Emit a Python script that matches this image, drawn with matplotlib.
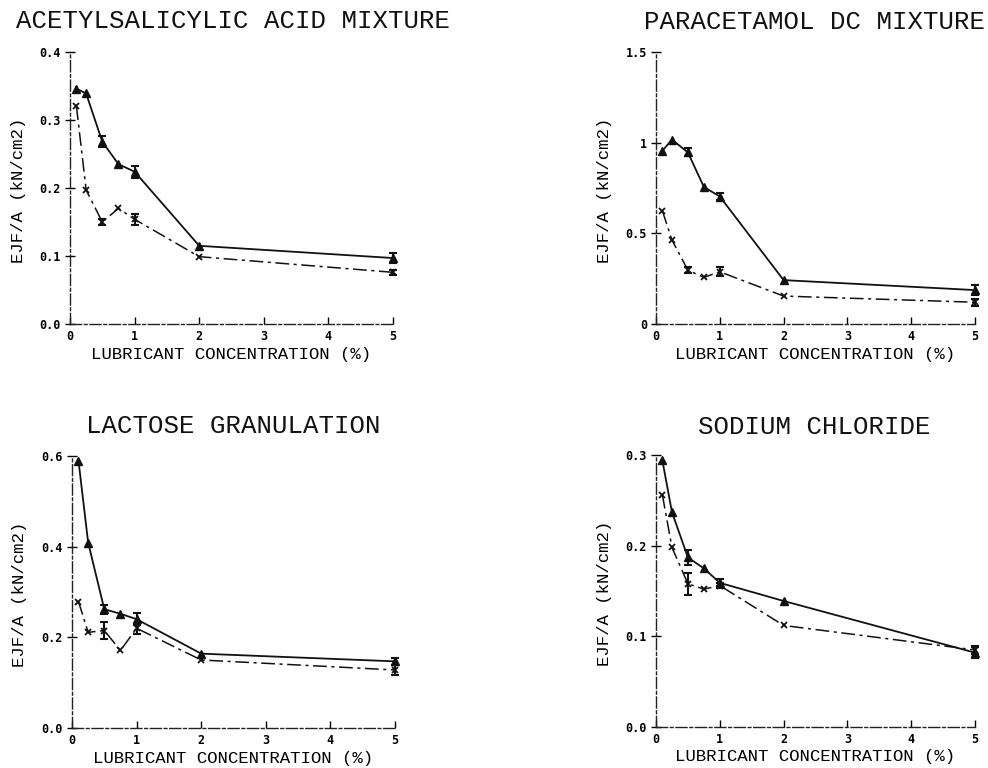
import matplotlib
matplotlib.use("Agg")
import matplotlib.pyplot as plt

# lubricant concentrations (%)
conc = [0.1, 0.25, 0.5, 0.75, 1, 2, 5]

# acetylsalicylic acid mixture
asa_tri = [0.346, 0.339, 0.268, 0.235, 0.224, 0.115, 0.097]
asa_tri_err = [0, 0, 0.008, 0, 0.009, 0, 0.008]
asa_crs = [0.320, 0.197, 0.150, 0.170, 0.154, 0.099, 0.076]
asa_crs_err = [0, 0, 0.005, 0, 0.008, 0, 0.004]

# paracetamol DC mixture
par_tri = [0.955, 1.017, 0.946, 0.756, 0.703, 0.242, 0.187]
par_tri_err = [0, 0, 0.022, 0, 0.017, 0, 0.028]
par_crs = [0.624, 0.463, 0.297, 0.257, 0.288, 0.154, 0.120]
par_crs_err = [0, 0, 0.018, 0, 0.024, 0, 0.020]

# lactose granulation
lac_tri = [0.590, 0.409, 0.262, 0.252, 0.240, 0.164, 0.147]
lac_tri_err = [0, 0, 0.010, 0, 0.013, 0, 0.008]
lac_crs = [0.279, 0.211, 0.215, 0.171, 0.220, 0.150, 0.128]
lac_crs_err = [0, 0, 0.018, 0, 0.012, 0, 0.010]

# sodium chloride
nacl_tri = [0.294, 0.237, 0.187, 0.175, 0.159, 0.139, 0.082]
nacl_tri_err = [0, 0, 0.008, 0, 0.004, 0, 0.006]
nacl_crs = [0.256, 0.198, 0.158, 0.152, 0.156, 0.112, 0.085]
nacl_crs_err = [0, 0, 0.012, 0, 0.003, 0, 0.004]

titles = ["ACETYLSALICYLIC ACID MIXTURE", "PARACETAMOL DC MIXTURE",
          "LACTOSE GRANULATION", "SODIUM CHLORIDE"]
yticks = [[0.0, 0.1, 0.2, 0.3, 0.4], [0, 0.5, 1, 1.5],
          [0.0, 0.2, 0.4, 0.6], [0.0, 0.1, 0.2, 0.3]]
ytick_labels = [["0.0", "0.1", "0.2", "0.3", "0.4"], ["0", "0.5", "1", "1.5"],
                ["0.0", "0.2", "0.4", "0.6"], ["0.0", "0.1", "0.2", "0.3"]]
xticks = [0, 1, 2, 3, 4, 5]
xlabel = "LUBRICANT CONCENTRATION (%)"
ylabel = "EJF/A (kN/cm2)"

panels = [
    (asa_tri, asa_tri_err, asa_crs, asa_crs_err),
    (par_tri, par_tri_err, par_crs, par_crs_err),
    (lac_tri, lac_tri_err, lac_crs, lac_crs_err),
    (nacl_tri, nacl_tri_err, nacl_crs, nacl_crs_err),
]

W, H = 988, 768
mono = "Liberation Mono"

# axes boxes in pixels: left, top, right, bottom
boxes = [(70, 52, 393, 324), (656, 52, 975, 324),
         (72, 456, 395, 728), (656, 455, 975, 727)]
title_pos = [(233, 21), (814, 22), (233, 426), (814, 427)]

fig = plt.figure(figsize=(W / 100, H / 100), dpi=100)

for i, (tri, tri_err, crs, crs_err) in enumerate(panels):
    l, t, r, b = boxes[i]
    ax = fig.add_axes([l / W, 1 - b / H, (r - l) / W, (b - t) / H])

    ax.plot(conc, tri, color="#111111", lw=1.3, ls="-", marker="^", ms=5.5,
            clip_on=False, zorder=3)
    ax.plot(conc, crs, color="#111111", lw=1.1, ls=(0, (9, 3, 2, 3)),
            marker="x", ms=5, mew=1.3, clip_on=False, zorder=3)

    # error bars only where they show in the figure
    for ys, es in ((tri, tri_err), (crs, crs_err)):
        ex = [c for c, e in zip(conc, es) if e > 0]
        ey = [y for y, e in zip(ys, es) if e > 0]
        ee = [e for e in es if e > 0]
        ax.errorbar(ex, ey, yerr=ee, fmt="none", ecolor="#111111",
                    elinewidth=1.5, capsize=3, capthick=1.5, clip_on=False,
                    zorder=4)

    ax.set_xlim(0, 5)
    ax.set_ylim(yticks[i][0], yticks[i][-1])
    ax.set_xticks(xticks)
    ax.set_xticklabels([str(v) for v in xticks])
    ax.set_yticks(yticks[i])
    ax.set_yticklabels(ytick_labels[i])

    for lab in ax.get_xticklabels() + ax.get_yticklabels():
        lab.set_family("DejaVu Sans Mono")
        lab.set_fontsize(8.5)
        lab.set_fontweight("bold")

    ax.tick_params(axis="x", direction="in", length=5, width=1, pad=4)
    ax.tick_params(axis="y", direction="inout", length=7, width=1, pad=3)

    for side in ("top", "right"):
        ax.spines[side].set_visible(False)
    for side in ("left", "bottom"):
        ax.spines[side].set_linestyle((0, (8, 2, 2, 2)))
        ax.spines[side].set_linewidth(1.0)
        ax.spines[side].set_color("#222222")

    ax.set_xlabel(xlabel, family=mono, fontsize=12.5, va="center")
    ax.xaxis.set_label_coords(0.5, -30 / (b - t))
    ax.set_ylabel(ylabel, family=mono, fontsize=12.5, va="center")
    ax.yaxis.set_label_coords(-52 / (r - l), 0.49)

    tx, ty = title_pos[i]
    fig.text(tx / W, 1 - ty / H, titles[i], family=mono, fontsize=18.5,
             ha="center", va="center", color="#111111")

fig.savefig("out.png", dpi=100, facecolor="white")
